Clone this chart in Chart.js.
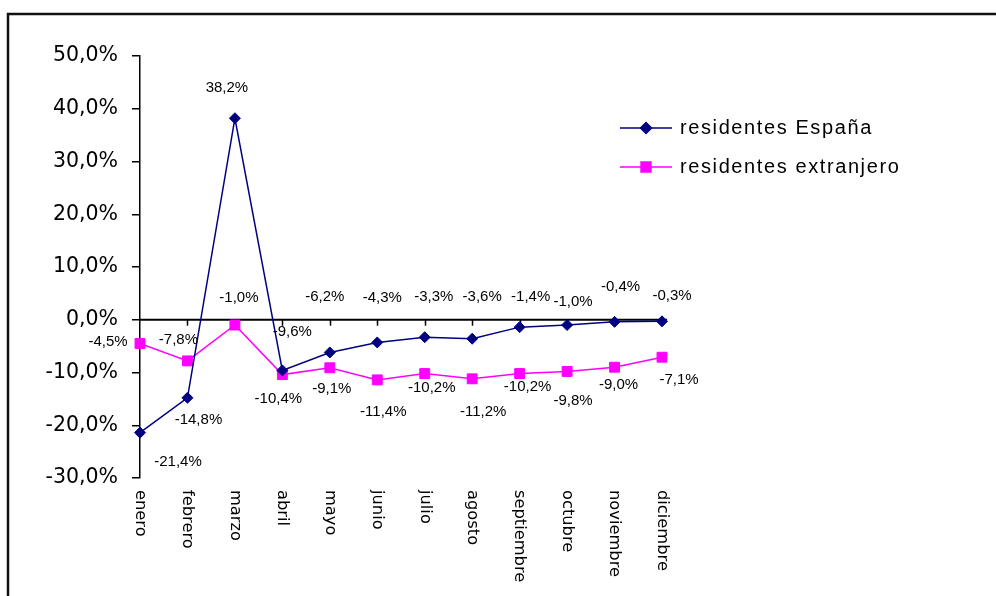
<!DOCTYPE html>
<html lang="es">
<head>
<meta charset="UTF-8">
<title>Residentes España / extranjero</title>
<script src="https://cdn.jsdelivr.net/npm/chart.js"></script>
<style>
  html, body { margin: 0; padding: 0; background: #fff; }
  #caja { width: 996px; height: 596px; position: relative; }
</style>
</head>
<body>
<div id="caja"><canvas id="grafico"></canvas></div>
<script>
// datos
const meses = ['enero', 'febrero', 'marzo', 'abril', 'mayo', 'junio', 'julio',
               'agosto', 'septiembre', 'octubre', 'noviembre', 'diciembre'];
const espana = [-21.4, -14.8, 38.2, -9.6, -6.2, -4.3, -3.3, -3.6, -1.4, -1.0, -0.4, -0.3];
const extranjero = [-4.5, -7.8, -1.0, -10.4, -9.1, -11.4, -10.2, -11.2, -10.2, -9.8, -9.0, -7.1];
const ticksY = [50, 40, 30, 20, 10, 0, -10, -20, -30];

// desplazamiento de las etiquetas de datos (px, respecto al punto)
const despEspana = [[38, 29], [11, 22], [-8, -30], [10, -39], [-5, -56], [5, -45],
                    [9, -40], [10, -42], [11, -30], [6, -23], [6, -35], [10, -25]];
const despExtranjero = [[-32, -2], [-9, -21], [4, -27], [-4, 24], [2, 21], [6, 32],
                        [7, 14], [11, 33], [8, 13], [6, 29], [4, 18], [17, 23]];

const AZUL = '#000080';
const ROSA = '#ff00ff';
const arial = '"Liberation Sans", Arial, sans-serif';
const dejavu = '"DejaVu Sans", Verdana, sans-serif';

const fmt = v => v.toFixed(1).replace('.', ',') + '%';

const dibujo = {
  id: 'dibujo',
  beforeDatasetsDraw(chart) {
    const { ctx, scales: { x, y } } = chart;
    const y0 = y.getPixelForValue(0);
    ctx.save();
    ctx.strokeStyle = '#000';
    ctx.lineWidth = 2;
    ctx.beginPath();
    ctx.moveTo(x.left, y0);
    ctx.lineTo(x.right + 5, y0);
    ctx.stroke();
    ctx.lineWidth = 1.5;
    ctx.beginPath();
    for (let i = 1; i < meses.length; i++) {
      const px = Math.round(x.getPixelForValue(i)) + 0.5;
      ctx.moveTo(px, y0);
      ctx.lineTo(px, y0 + 6);
    }
    ctx.stroke();
    ctx.restore();
  },
  afterDatasetsDraw(chart) {
    const { ctx } = chart;
    ctx.save();
    ctx.fillStyle = '#000';
    ctx.font = '15px ' + arial;
    ctx.textAlign = 'center';
    ctx.textBaseline = 'middle';
    [[0, espana, despEspana], [1, extranjero, despExtranjero]].forEach(([d, vals, desp]) => {
      const meta = chart.getDatasetMeta(d);
      meta.data.forEach((p, i) => {
        ctx.fillText(fmt(vals[i]), p.x + desp[i][0], p.y + desp[i][1]);
      });
    });
    ctx.restore();
  },
  afterDraw(chart) {
    const { ctx, scales: { x } } = chart;
    ctx.save();
    // marco
    ctx.strokeStyle = '#111';
    ctx.lineWidth = 2.5;
    ctx.beginPath();
    ctx.moveTo(8, 600);
    ctx.lineTo(8, 14);
    ctx.lineTo(1000, 14);
    ctx.stroke();

    // etiquetas de meses, giradas
    ctx.fillStyle = '#000';
    ctx.font = '16.3px ' + dejavu;
    ctx.textAlign = 'left';
    ctx.textBaseline = 'middle';
    meses.forEach((m, i) => {
      ctx.save();
      ctx.translate(x.getPixelForValue(i), 490);
      ctx.rotate(Math.PI / 2);
      ctx.fillText(m, 0, 0);
      ctx.restore();
    });

    // leyenda
    const items = [
      { txt: 'residentes España', color: AZUL, estilo: 'rectRot', r: 5.5, y: 128 },
      { txt: 'residentes extranjero', color: ROSA, estilo: 'rect', r: 7, y: 167 }
    ];
    items.forEach(it => {
      ctx.strokeStyle = it.color;
      ctx.lineWidth = 1.5;
      ctx.beginPath();
      ctx.moveTo(620, it.y);
      ctx.lineTo(672, it.y);
      ctx.stroke();
      ctx.fillStyle = it.color;
      Chart.helpers.drawPoint(ctx, { pointStyle: it.estilo, radius: it.r, borderWidth: 1 }, 646, it.y);
      ctx.fillStyle = '#000';
      ctx.font = '20px ' + arial;
      ctx.letterSpacing = '1.6px';
      ctx.fillText(it.txt, 680, it.y);
      ctx.letterSpacing = '0px';
    });
    ctx.restore();
  }
};

new Chart(document.getElementById('grafico'), {
  type: 'line',
  data: {
    labels: meses,
    datasets: [
      {
        label: 'residentes España',
        data: espana,
        borderColor: AZUL,
        backgroundColor: AZUL,
        borderWidth: 1.5,
        pointStyle: 'rectRot',
        pointRadius: 5.5,
        pointBorderWidth: 1,
        tension: 0
      },
      {
        label: 'residentes extranjero',
        data: extranjero,
        borderColor: ROSA,
        backgroundColor: ROSA,
        borderWidth: 1.5,
        pointStyle: 'rect',
        pointRadius: 7,
        pointBorderWidth: 1,
        tension: 0
      }
    ]
  },
  options: {
    responsive: true,
    maintainAspectRatio: false,
    animation: false,
    events: [],
    layout: { padding: { top: 56, right: 334, bottom: 0, left: 0 } },
    scales: {
      x: {
        type: 'category',
        offset: false,
        grid: { display: false },
        border: { display: false },
        ticks: { display: false },
        afterFit: s => { s.height = 118; }
      },
      y: {
        min: Math.min(...ticksY),
        max: Math.max(...ticksY),
        ticks: {
          stepSize: 10,
          color: '#000',
          padding: 14,
          font: { family: dejavu, size: 20.5 },
          callback: v => fmt(v)
        },
        grid: { drawOnChartArea: false, drawTicks: true, tickLength: 8, color: '#000', lineWidth: 1.5 },
        border: { display: true, color: '#000', width: 1.5 },
        afterFit: s => { s.width = 140; }
      }
    },
    plugins: {
      legend: { display: false },
      tooltip: { enabled: false }
    }
  },
  plugins: [dibujo]
});
</script>
</body>
</html>
